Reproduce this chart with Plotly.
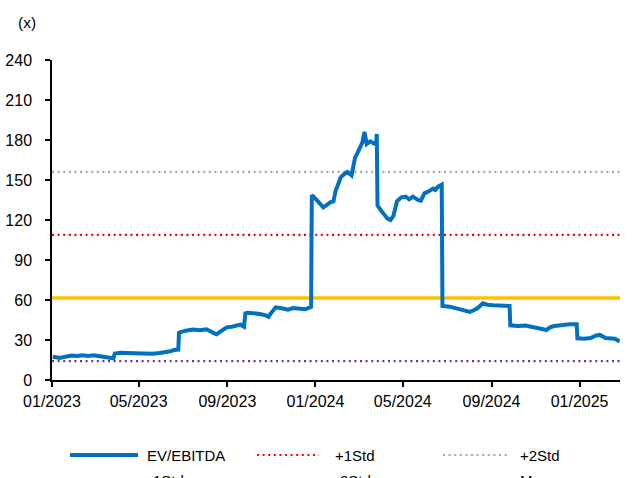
import plotly.graph_objects as go

# ---- data ----
dates = [
    "2023-01-02", "2023-01-06", "2023-01-12", "2023-01-20", "2023-01-28", "2023-02-05",
    "2023-02-12", "2023-02-20", "2023-02-28", "2023-03-08", "2023-03-16", "2023-03-22",
    "2023-03-27", "2023-03-29", "2023-04-06", "2023-04-15", "2023-04-26", "2023-05-08",
    "2023-05-20", "2023-05-30", "2023-06-08", "2023-06-14", "2023-06-19", "2023-06-22",
    "2023-06-25", "2023-06-26", "2023-07-05", "2023-07-15", "2023-07-25", "2023-08-03",
    "2023-08-08", "2023-08-14", "2023-08-17", "2023-08-24", "2023-08-31", "2023-09-07",
    "2023-09-14", "2023-09-19", "2023-09-24", "2023-09-26", "2023-09-29", "2023-10-08",
    "2023-10-16", "2023-10-24", "2023-10-28", "2023-11-01", "2023-11-07", "2023-11-15",
    "2023-11-24", "2023-12-01", "2023-12-10", "2023-12-18", "2023-12-26", "2023-12-27",
    "2024-01-01", "2024-01-07", "2024-01-12", "2024-01-16", "2024-01-22", "2024-01-26",
    "2024-01-29", "2024-02-01", "2024-02-05", "2024-02-10", "2024-02-14", "2024-02-20",
    "2024-02-22", "2024-02-25", "2024-02-28", "2024-03-03", "2024-03-06", "2024-03-09",
    "2024-03-12", "2024-03-17", "2024-03-22", "2024-03-25", "2024-03-26", "2024-03-27",
    "2024-04-01", "2024-04-06", "2024-04-10", "2024-04-14", "2024-04-18", "2024-04-23",
    "2024-04-29", "2024-05-05", "2024-05-10", "2024-05-15", "2024-05-22", "2024-05-26",
    "2024-05-31", "2024-06-06", "2024-06-12", "2024-06-15", "2024-06-19", "2024-06-24",
    "2024-06-25", "2024-07-05", "2024-07-12", "2024-07-19", "2024-07-26", "2024-08-02",
    "2024-08-08", "2024-08-13", "2024-08-20", "2024-08-26", "2024-09-03", "2024-09-13",
    "2024-09-26", "2024-09-27", "2024-10-08", "2024-10-18", "2024-10-25", "2024-11-05",
    "2024-11-16", "2024-11-21", "2024-11-27", "2024-12-08", "2024-12-18", "2024-12-28",
    "2024-12-29", "2025-01-08", "2025-01-16", "2025-01-24", "2025-01-29", "2025-02-06",
    "2025-02-14", "2025-02-19", "2025-02-23", "2025-02-25",
]
ev_ebitda = [
    17.5, 17.2, 16.5, 17.5, 18.3, 18.0,
    18.6, 18.0, 18.5, 17.8, 17.4, 17.0,
    16.3, 19.8, 20.5, 20.3, 20.0, 19.8,
    19.7, 20.2, 20.8, 21.5, 22.5, 23.0,
    22.8, 35.5, 37.0, 37.8, 37.3, 38.0,
    37.0, 35.0, 34.3, 37.0, 39.5, 40.0,
    41.0, 41.5, 40.0, 50.0, 50.5, 50.3,
    49.5, 48.5, 47.3, 50.5, 54.5, 53.8,
    52.8, 54.0, 53.2, 53.0, 54.8, 138.5,
    136.0, 132.0, 129.5, 131.0, 133.5, 134.0,
    142.0, 146.0, 152.0, 154.5, 156.0, 153.5,
    160.0, 167.0, 170.0, 175.0, 178.0, 186.0,
    177.0, 179.0, 177.0, 176.5, 184.5, 131.0,
    127.0, 124.0, 121.0, 120.0, 123.0, 134.0,
    137.0, 137.5, 135.5, 137.5, 135.0, 134.5,
    140.0, 141.5, 143.5, 142.5, 145.0, 146.5,
    55.5, 55.0, 54.0, 53.0, 52.0, 51.0,
    52.5, 54.0, 57.5, 56.5, 56.0, 55.8,
    55.5, 41.0, 40.5, 40.8, 39.8, 38.8,
    37.5, 39.5, 40.5, 41.3, 41.8, 41.8,
    31.3, 31.0, 31.5, 33.5, 33.8, 31.5,
    31.3, 31.0, 29.5, 30.8,
]

band_dates = ["2023-01-01", "2025-02-26"]
mean_val = 61.5
plus1_val = 108.8
plus2_val = 156.1
minus1_val = 14.2
minus2_val = -33.1

tick_vals = ["2023-01-01", "2023-05-01", "2023-09-01", "2024-01-01",
             "2024-05-01", "2024-09-01", "2025-01-01"]
tick_text = ["01/2023", "05/2023", "09/2023", "01/2024", "05/2024", "09/2024", "01/2025"]
y_ticks = [0, 30, 60, 90, 120, 150, 180, 210, 240]

# ---- styles ----
BLUE = "#0070C0"
RED = "#FF0000"
GREY = "#A6A6A6"
PURPLE = "#7030A0"
NAVY = "#002060"
GOLD = "#FFC000"
DOT = "2px,3.6px"
FONT = "Liberation Sans, Arial, sans-serif"

fig = go.Figure()

fig.add_trace(go.Scatter(x=band_dates, y=[minus2_val] * 2, mode="lines",
                         line=dict(color=NAVY, width=2.2, dash=DOT), name="-2Std", showlegend=False))
fig.add_trace(go.Scatter(x=band_dates, y=[minus1_val] * 2, mode="lines",
                         line=dict(color=PURPLE, width=2.2, dash=DOT), name="-1Std", showlegend=False))
fig.add_trace(go.Scatter(x=band_dates, y=[plus1_val] * 2, mode="lines",
                         line=dict(color=RED, width=2.2, dash=DOT), name="+1Std", showlegend=False))
fig.add_trace(go.Scatter(x=band_dates, y=[plus2_val] * 2, mode="lines",
                         line=dict(color=GREY, width=2.2, dash=DOT), name="+2Std", showlegend=False))
fig.add_trace(go.Scatter(x=band_dates, y=[mean_val] * 2, mode="lines",
                         line=dict(color=GOLD, width=3.5), name="Mean", showlegend=False))
fig.add_trace(go.Scatter(x=dates, y=ev_ebitda, mode="lines",
                         line=dict(color=BLUE, width=4), name="EV/EBITDA", showlegend=False))

# ---- manual legend (pixel layout converted to paper coords) ----
L, R, T, B = 52, 620, 60, 380
def px(xp):
    return (xp - L) / (R - L)
def py(yp):
    return (B - yp) / (B - T)

legend_items = [
    # name, color, dash, width, x0, x1, text_x, row_y
    ("EV/EBITDA", BLUE, "solid", 4, 70, 138, 145, 455),
    ("+1Std", RED, DOT, 2.2, 257, 319, 333, 455),
    ("+2Std", GREY, DOT, 2.2, 443, 507, 518, 455),
    ("-1Std", PURPLE, DOT, 2.2, 70, 134, 146, 480),
    ("-2Std", NAVY, DOT, 2.2, 257, 319, 333, 480),
    ("Mean", GOLD, "solid", 3.5, 443, 511, 518, 480),
]
shapes = []
annotations = []
for name, color, dash, w, x0, x1, tx, ry in legend_items:
    shapes.append(dict(type="line", xref="paper", yref="paper",
                       x0=px(x0), x1=px(x1), y0=py(ry), y1=py(ry),
                       line=dict(color=color, width=w, dash=dash)))
    annotations.append(dict(text=name, xref="paper", yref="paper",
                            x=px(tx), y=py(ry), xanchor="left", yanchor="middle",
                            showarrow=False, font=dict(size=15, color="#000000", family=FONT)))

annotations.append(dict(text="(x)", xref="paper", yref="paper", x=px(16), y=py(22),
                        xanchor="left", yanchor="middle", showarrow=False,
                        font=dict(size=15.5, color="#000000", family=FONT)))

fig.update_layout(
    width=638, height=478,
    margin=dict(l=L, r=638 - R, t=T, b=478 - B),
    paper_bgcolor="white", plot_bgcolor="white",
    font=dict(family=FONT, size=15, color="#000000"),
    shapes=shapes, annotations=annotations,
    showlegend=False,
)
fig.update_xaxes(
    type="date", range=band_dates, automargin=False,
    tickmode="array", tickvals=tick_vals, ticktext=tick_text,
    showgrid=False, zeroline=False,
    showline=True, linecolor="#000000", linewidth=1.5,
    ticks="outside", ticklen=5, tickwidth=1.5, tickcolor="#000000",
    ticklabelstandoff=1,
    tickfont=dict(size=16, family=FONT),
)
fig.update_yaxes(
    range=[0, 240], tickmode="array", tickvals=y_ticks, automargin=False,
    showgrid=False, zeroline=False,
    showline=True, linecolor="#000000", linewidth=1.5,
    ticks="outside", ticklen=5, tickwidth=1.5, tickcolor="#000000",
    ticklabelstandoff=10,
    tickfont=dict(size=16, family=FONT),
)

fig.write_html(
    "out.html",
    config={"displayModeBar": False},
    post_script="document.body.style.margin='0';document.body.style.overflow='hidden';",
)
